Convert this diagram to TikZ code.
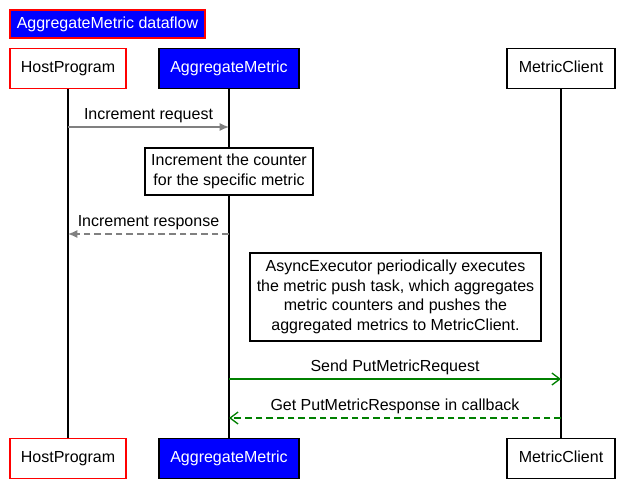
\documentclass[tikz,border=0pt]{standalone}
\usepackage{fontspec}
\setmainfont{Liberation Sans}
\usepackage{tikz}
\usetikzlibrary{arrows.meta,positioning,calc}
\definecolor{amblue}{RGB}{0,0,255}
\definecolor{amred}{RGB}{255,0,0}
\definecolor{amgreen}{RGB}{0,128,0}
\definecolor{amgray}{RGB}{128,128,128}
\tikzset{
  actor/.style={draw, line width=1.4pt, align=center, font=\fontsize{12}{14}\selectfont,
    inner sep=0pt, minimum height=30pt, fill=white, text height=8.6pt, text depth=2.6pt},
  hostactor/.style={actor, draw=amred},
  aggactor/.style={actor, draw=black, fill=amblue, text=white},
  clientactor/.style={actor, draw=black},
  titlebox/.style={draw=amred, line width=1.4pt, fill=amblue, text=white, inner sep=0pt,
    font=\fontsize{12}{14}\selectfont, minimum height=21pt},
  notebox/.style={draw, line width=1pt, fill=white, align=center, inner sep=0pt,
    font=\fontsize{12}{14.6}\selectfont},
  lifeline/.style={line width=1.2pt, black},
  msg/.style={font=\fontsize{12}{14}\selectfont, above=-0.5pt},
  grayarrow/.style={-{Latex[length=7pt,width=6pt]}, line width=1pt, draw=amgray},
  greenarrow/.style={-{Straight Barb[length=6pt,width=9pt]}, line width=1pt, draw=amgreen},
}
\begin{document}
\begin{tikzpicture}[x=0.75pt, y=-0.75pt]
  \useasboundingbox (0,0) rectangle (644,497);
  % title
  \node[titlebox, minimum width=195*0.75pt] (title) at (107.5,24) {AggregateMetric dataflow};
  % participants, top and bottom
  \node[hostactor, minimum width=116*0.75pt] (hpT) at (68,68.5) {HostProgram};
  \node[aggactor, minimum width=140*0.75pt] (amT) at (229,68.5) {AggregateMetric};
  \node[clientactor, minimum width=108*0.75pt] (mcT) at (561,68.5) {MetricClient};
  \node[hostactor, minimum width=116*0.75pt] (hpB) at (68,458.5) {HostProgram};
  \node[aggactor, minimum width=140*0.75pt] (amB) at (229,458.5) {AggregateMetric};
  \node[clientactor, minimum width=108*0.75pt] (mcB) at (561,458.5) {MetricClient};
  \draw[lifeline] (hpT) -- (hpB);
  \draw[lifeline] (amT) -- (amB);
  \draw[lifeline] (mcT) -- (mcB);
  % message points on the lifelines
  \coordinate (hp1) at (68,127);
  \coordinate (am1) at (229,127);
  \coordinate (am2) at (229,234);
  \coordinate (hp2) at (68,234);
  \coordinate (am3) at (229,379);
  \coordinate (mc3) at (561,379);
  \coordinate (mc4) at (561,418);
  \coordinate (am4) at (229,418);
  % messages
  \draw[grayarrow] (hp1) -- node[msg] {Increment request} (am1);
  \node[notebox, minimum width=168*0.75pt, minimum height=47*0.75pt] (count) at (229,171.5)
    {Increment the counter\\ for the specific metric};
  \draw[grayarrow, dashed, dash pattern=on 5pt off 3pt] (am2) -- node[msg] {Increment response} (hp2);
  \node[notebox, minimum width=291*0.75pt, minimum height=88*0.75pt] (push) at (395.5,297)
    {AsyncExecutor periodically executes\\ the metric push task, which aggregates\\
     metric counters and pushes the\\ aggregated metrics to MetricClient.};
  \draw[greenarrow] (am3) -- node[msg] {Send PutMetricRequest} (mc3);
  \draw[greenarrow, dashed, dash pattern=on 5pt off 3pt] (mc4) -- node[msg] {Get PutMetricResponse in callback} (am4);
\end{tikzpicture}
\end{document}
